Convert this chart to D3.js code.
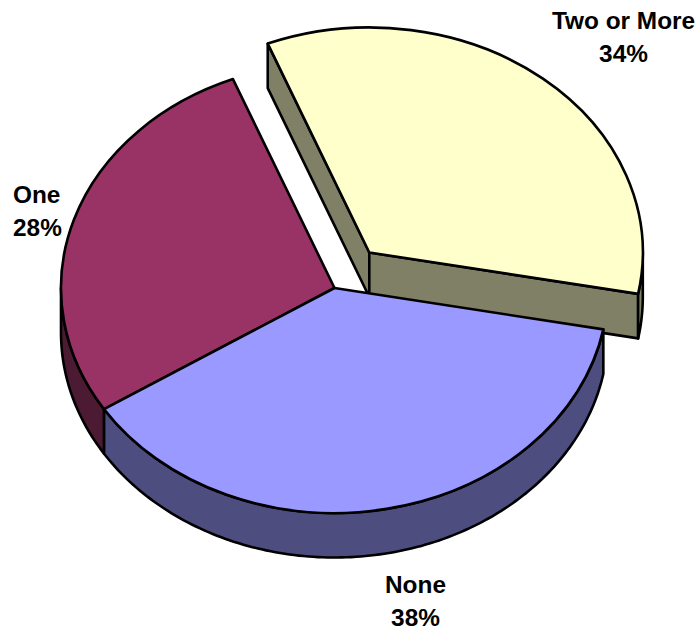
<!DOCTYPE html>
<html><head><meta charset="utf-8">
<script src="https://cdn.jsdelivr.net/npm/d3@7"></script>
<style>html,body{margin:0;padding:0;background:#fff}svg{display:block}</style>
</head><body><div id="chart"></div>
<script>
const categories = ["Two or More", "None", "One"];
const values = [34, 38, 28];
const percentLabels = ["34%", "38%", "28%"];
const topColors = ["#FFFFCC", "#9999FF", "#993366"];
const wallColors = ["#808066", "#4D4D80", "#4D1A33"];

const W = 700, H = 627, rx = 273.5, ry = 225, depth = 44.5;
const centers = [[369.3, 252.5], [334.5, 288], [334.5, 288]];
const labelPos = [[623.5, 29, "middle"], [415.5, 593, "middle"], [13, 203, "start"]];
const rad = Math.PI / 180;

const svg = d3.select("#chart").append("svg").attr("width", W).attr("height", H);
const arcs = d3.pie().sort(null).startAngle(-21.8 * rad).endAngle((360 - 21.8) * rad)(values);
const arc = d3.arc().innerRadius(0).outerRadius(rx);
const px = (a, c) => c[0] + rx * Math.sin(a);
const py = (a, c) => c[1] - ry * Math.cos(a);
const sw = 2.6;
const style = s => s.attr("stroke", "#000").attr("stroke-width", sw).attr("stroke-linejoin", "round");

function outerWall(a0, a1, c, fill) {
  const n = Math.max(2, Math.ceil(Math.abs(a1 - a0) / rad));
  const as = d3.range(n + 1).map(i => a0 + (a1 - a0) * i / n);
  const pts = as.map(a => [px(a, c), py(a, c)])
    .concat(as.slice().reverse().map(a => [px(a, c), py(a, c) + depth]));
  style(svg.append("path").attr("d", d3.line()(pts) + "Z").attr("fill", fill));
}
function drawTop(d, i) {
  const c = centers[i];
  style(svg.append("g").attr("transform", `translate(${c[0]},${c[1]}) scale(1,${ry / rx})`)
    .append("path").attr("d", arc(d)).attr("fill", topColors[i]).attr("vector-effect", "non-scaling-stroke"));
}
function cutWall(a, c, fill) {
  const x = px(a, c), y = py(a, c);
  const pts = [[c[0], c[1]], [x, y], [x, y + depth], [c[0], c[1] + depth]];
  style(svg.append("path").attr("d", d3.line()(pts) + "Z").attr("fill", fill));
}

// Exploded slice first, since the rest of the pie overlaps it
cutWall(arcs[0].startAngle, centers[0], wallColors[0]);
cutWall(arcs[0].endAngle, centers[0], wallColors[0]);
outerWall(Math.PI / 2, arcs[0].endAngle, centers[0], wallColors[0]);
drawTop(arcs[0], 0);
// One
outerWall(arcs[2].startAngle, 1.5 * Math.PI, centers[2], wallColors[2]);
drawTop(arcs[2], 2);
// None
outerWall(arcs[1].startAngle, arcs[1].endAngle, centers[1], wallColors[1]);
drawTop(arcs[1], 1);

const text = svg.append("g").attr("font-family", "'Liberation Sans',Arial,sans-serif")
  .attr("font-weight", "bold").attr("font-size", 24.4).attr("fill", "#000");
categories.forEach((cat, i) => {
  const [x, y, anchor] = labelPos[i];
  const t = text.append("text").attr("text-anchor", anchor);
  t.append("tspan").attr("x", x).attr("y", y).text(cat);
  t.append("tspan").attr("x", x).attr("y", y + 33).text(percentLabels[i]);
});
</script></body></html>
